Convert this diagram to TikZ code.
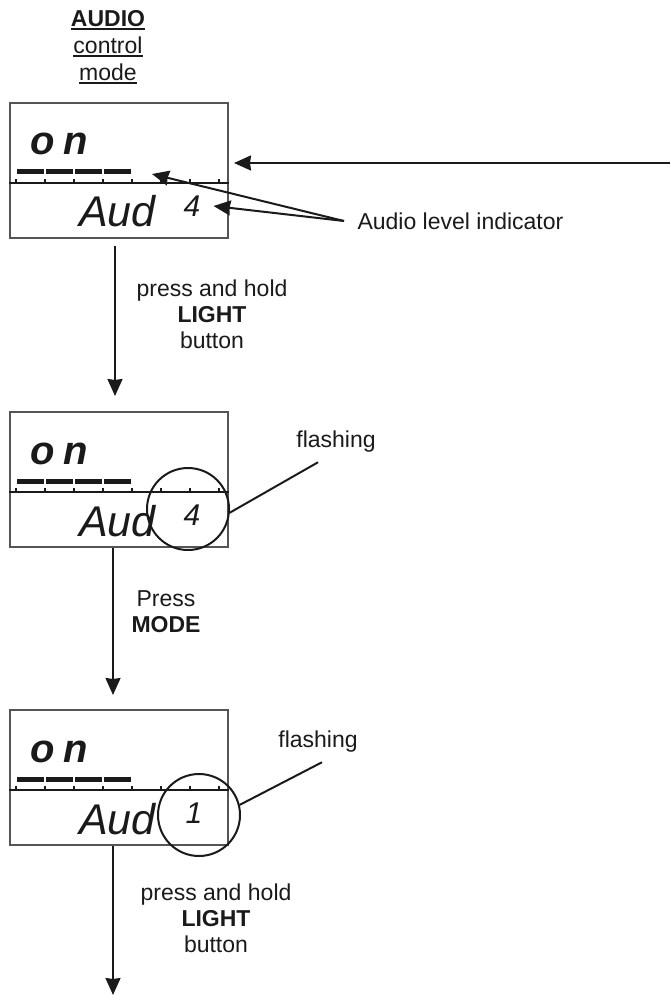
\documentclass[tikz,border=0pt]{standalone}
\usepackage{fontspec}
\setmainfont{Liberation Sans}
\usepackage{tikz}
\usetikzlibrary{arrows.meta,positioning,calc}
\definecolor{ink}{HTML}{1A1A1A}
\definecolor{frame}{HTML}{555555}
\newcommand{\ulined}[1]{\setbox0\hbox{#1}\rlap{\rule[-4pt]{\wd0}{1.6pt}}\box0}

\begin{document}
\begin{tikzpicture}[
  x=1pt, y=-1pt,
  font=\fontsize{23}{26}\selectfont, text=ink,
  lcd/.style={draw=frame, line width=2pt, minimum width=218pt, minimum height=135pt, inner sep=0pt},
  divider/.style={draw=ink, line width=2pt},
  tick/.style={draw=ink, line width=1.5pt},
  bar/.style={draw=ink, line width=5pt},
  lcdtxt/.style={font=\fontsize{40}{40}\selectfont\bfseries\itshape, inner sep=0pt},
  lcdbig/.style={font=\fontsize{43}{43}\selectfont\itshape, inner sep=0pt},
  lcddig/.style={font=\fontsize{30}{30}\selectfont\itshape, inner sep=3pt},
  ring/.style={circle, draw=ink, line width=2pt, minimum size=82pt, inner sep=0pt},
  note/.style={align=center},
  lead/.style={draw=ink, line width=2pt},
  arr/.style={-{Stealth[length=17pt, width=15pt, inset=1pt]}, draw=ink, fill=ink, line width=2pt}
]
\useasboundingbox (0,0) rectangle (670,1000);
\node[note, font=\fontsize{23}{27}\selectfont] (head) at (108,47) {\ulined{\textbf{AUDIO}}\\\ulined{control}\\\ulined{mode}};

% the three displays
\node[lcd] (lcd1) at (119,170.5) {};
\node[lcd, below=172pt of lcd1] (lcd2) {};
\node[lcd, below=161pt of lcd2] (lcd3) {};

\foreach \n/\dig/\dx in {lcd1/4/183, lcd2/4/183, lcd3/1/185} {
  \draw[divider] ($(\n.north west)+(0,81)$) -- ($(\n.north east)+(0,81)$);
  \foreach \i in {0,...,7}
    \draw[tick] ($(\n.north west)+(7+29*\i,81)$) -- ++(0,-4);
  \foreach \i in {0,...,3}
    \draw[bar] ($(\n.north west)+(8+29*\i,70)$) -- ++(27,0);
  \node[lcdtxt, anchor=base west] (\n-on) at ($(\n.north west)+(21,53)$) {o\kern9pt n};
  \node[lcdbig, anchor=base west] (\n-aud) at ($(\n.north west)+(70,125)$) {Aud};
  \node[lcddig] (\n-dig) at ($(\n.north west)+(\dx,104)$) {\dig};
}

% callouts
\coordinate (feed) at (670,163);
\draw[arr] (feed) -- ($(lcd1.east |- feed)+(5,0)$);
\node[anchor=west] (level) at (354,221) {Audio level indicator};
\coordinate (bar-end) at ($(lcd1.north west)+(143,72)$);
\draw[arr] ([xshift=-10pt]level.west) -- (bar-end);
\draw[arr] ([xshift=-10pt]level.west) -- ([xshift=10pt]lcd1-dig.east);

\node[ring] (ring2) at ($(lcd2.north west)+(179,98)$) {};
\node[ring] (ring3) at ($(lcd3.north west)+(190,106)$) {};
\node (flash2) at (336,442) {flashing};
\node (flash3) at (318,742) {flashing};
\draw[lead] (ring2.-5) -- ([shift={(-18pt,-6pt)}]flash2.south);
\draw[lead] (ring3.14) -- ([shift={(4pt,-6pt)}]flash3.south);

% steps
\node[note] (hold1) at (212,314) {press and hold\\\textbf{LIGHT}\\button};
\node[note] (mode) at (166,612) {Press\\\textbf{MODE}};
\node[note] (hold2) at (216,918) {press and hold\\\textbf{LIGHT}\\button};
\coordinate (fin) at (113,995);
\draw[arr] ([xshift=-4pt,yshift=-7pt]lcd1.south) -- ([xshift=-4pt,yshift=15pt]lcd2.north);
\draw[arr] ([xshift=-6pt]lcd2.south) -- ([xshift=-6pt,yshift=14pt]lcd3.north);
\draw[arr] (lcd3.south -| fin) -- (fin);
\end{tikzpicture}
\end{document}
